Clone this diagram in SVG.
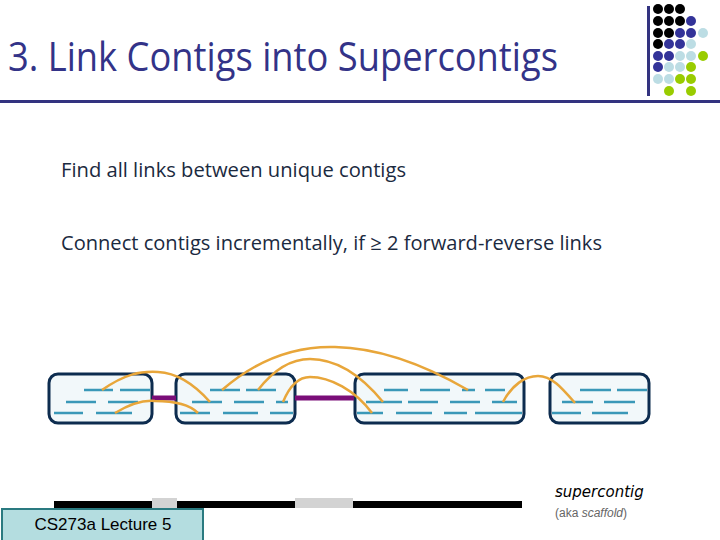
<svg xmlns="http://www.w3.org/2000/svg" width="720" height="540" viewBox="0 0 720 540">
<style>
.title{font-family:"Open Sans","Noto Sans",sans-serif;font-size:40px;fill:#333388}
.body{font-family:"Open Sans","Noto Sans",sans-serif;font-size:20px;fill:#1b2a40}
.box{fill:#f2f8fa;stroke:#0d2c4f;stroke-width:3}
.dash{stroke:#3a98b8;stroke-width:2.5}
.link{stroke:#7a0e78;stroke-width:5}
.arc{fill:none;stroke:#e8a63a;stroke-width:2.5}
.dk{fill:#000}.bl{fill:#333399}.lb{fill:#bcdde4}.gr{fill:#99cc00}
</style>
<rect width="720" height="540" fill="#fff"/>
<g id="title">
<text class="title" x="8" y="71" textLength="550" lengthAdjust="spacingAndGlyphs">3. Link Contigs into Supercontigs</text>
<rect x="0" y="100" width="720" height="3" fill="#333380"/>
</g>
<g id="logo">
<rect x="647" y="6" width="3" height="90" fill="#333380"/>
<circle class="dk" cx="658" cy="9" r="5"/><circle class="dk" cx="669" cy="9" r="5"/><circle class="dk" cx="680" cy="9" r="5"/>
<circle class="dk" cx="658" cy="21" r="5"/><circle class="dk" cx="669" cy="21" r="5"/><circle class="dk" cx="680" cy="21" r="5"/><circle class="bl" cx="691" cy="21" r="5"/>
<circle class="dk" cx="658" cy="33" r="5"/><circle class="dk" cx="669" cy="33" r="5"/><circle class="bl" cx="680" cy="33" r="5"/><circle class="bl" cx="691" cy="33" r="5"/><circle class="lb" cx="703" cy="33" r="5"/>
<circle class="dk" cx="658" cy="44" r="5"/><circle class="bl" cx="669" cy="44" r="5"/><circle class="bl" cx="680" cy="44" r="5"/><circle class="lb" cx="691" cy="44" r="5"/>
<circle class="bl" cx="658" cy="56" r="5"/><circle class="bl" cx="669" cy="56" r="5"/><circle class="lb" cx="680" cy="56" r="5"/><circle class="lb" cx="691" cy="56" r="5"/><circle class="gr" cx="703" cy="56" r="5"/>
<circle class="bl" cx="658" cy="67" r="5"/><circle class="lb" cx="669" cy="67" r="5"/><circle class="lb" cx="680" cy="67" r="5"/><circle class="gr" cx="691" cy="67" r="5"/>
<circle class="lb" cx="658" cy="79" r="5"/><circle class="lb" cx="669" cy="79" r="5"/><circle class="gr" cx="680" cy="79" r="5"/><circle class="gr" cx="691" cy="79" r="5"/>
<circle class="gr" cx="669" cy="91" r="5"/><circle class="gr" cx="691" cy="91" r="5"/>
</g>
<g id="bullets">
<text class="body" x="61" y="177" textLength="345" lengthAdjust="spacingAndGlyphs">Find all links between unique contigs</text>
<text class="body" x="61" y="250" textLength="541" lengthAdjust="spacingAndGlyphs">Connect contigs incrementally, if ≥ 2 forward-reverse links</text>
</g>
<g id="contig1">
<rect class="box" x="49" y="374" width="103" height="49" rx="9"/>
<path class="dash" d="M84 390H113M120 390H150M66 402H96M108 402H138M54 413H83M96 413H132"/>
</g>
<g id="contig2">
<rect class="box" x="176" y="374" width="119" height="49" rx="9"/>
<path class="dash" d="M210 390H240M246 390H276M192 402H222M234 402H264M276 402H288M180 413H210M223 413H258M270 413H293"/>
</g>
<g id="contig3">
<rect class="box" x="355" y="374" width="169" height="49" rx="9"/>
<path class="dash" d="M384 390H408M420 390H450M462 390H475M485 390H505M366 402H402M408 402H438M450 402H480M492 402H517M357 413H383M396 413H432M444 413H467M475 413H522"/>
</g>
<g id="contig4">
<rect class="box" x="550" y="374" width="99" height="49" rx="9"/>
<path class="dash" d="M580 390H611M617 390H647M562 402H593M604 402H635M552 413H581M592 413H628"/>
</g>
<g id="connectors">
<path class="link" d="M152 398H176M295 398H354"/>
<path class="arc" d="M102 390C125 374 140 371 158 372C178 373 195 385 210 402"/>
<path class="arc" d="M115 413C130 404 145 400 155 401C175 401 190 405 198 413"/>
<path class="arc" d="M222 390C260 357 300 346 335 347C385 348 430 368 468 390"/>
<path class="arc" d="M258 390C275 368 292 359 310 359C335 359 360 374 383 402"/>
<path class="arc" d="M283 402C290 385 300 377 310 377C330 377 355 390 372 413"/>
<path class="arc" d="M503 402C512 385 525 376 538 376C552 376 562 388 575 403"/>
</g>
<g id="supercontig">
<rect x="54" y="501" width="468" height="7" fill="#000"/>
<rect x="152" y="498" width="25" height="10" fill="#d3d3d3"/>
<rect x="295" y="498" width="58" height="10" fill="#d3d3d3"/>
<text x="555" y="497" font-family="'DejaVu Sans',sans-serif" font-style="italic" font-size="15" fill="#000">supercontig</text>
<text x="555" y="517" font-family="'Liberation Sans',sans-serif" font-size="12" fill="#666">(aka <tspan font-style="italic">scaffold</tspan>)</text>
</g>
<g id="footer">
<rect x="2" y="509" width="201" height="32" fill="#b4dde0" stroke="#2a7a80" stroke-width="2"/>
<text x="103" y="530" text-anchor="middle" font-family="'Liberation Sans',Arial,sans-serif" font-size="17" fill="#000">CS273a Lecture 5</text>
</g>
</svg>
